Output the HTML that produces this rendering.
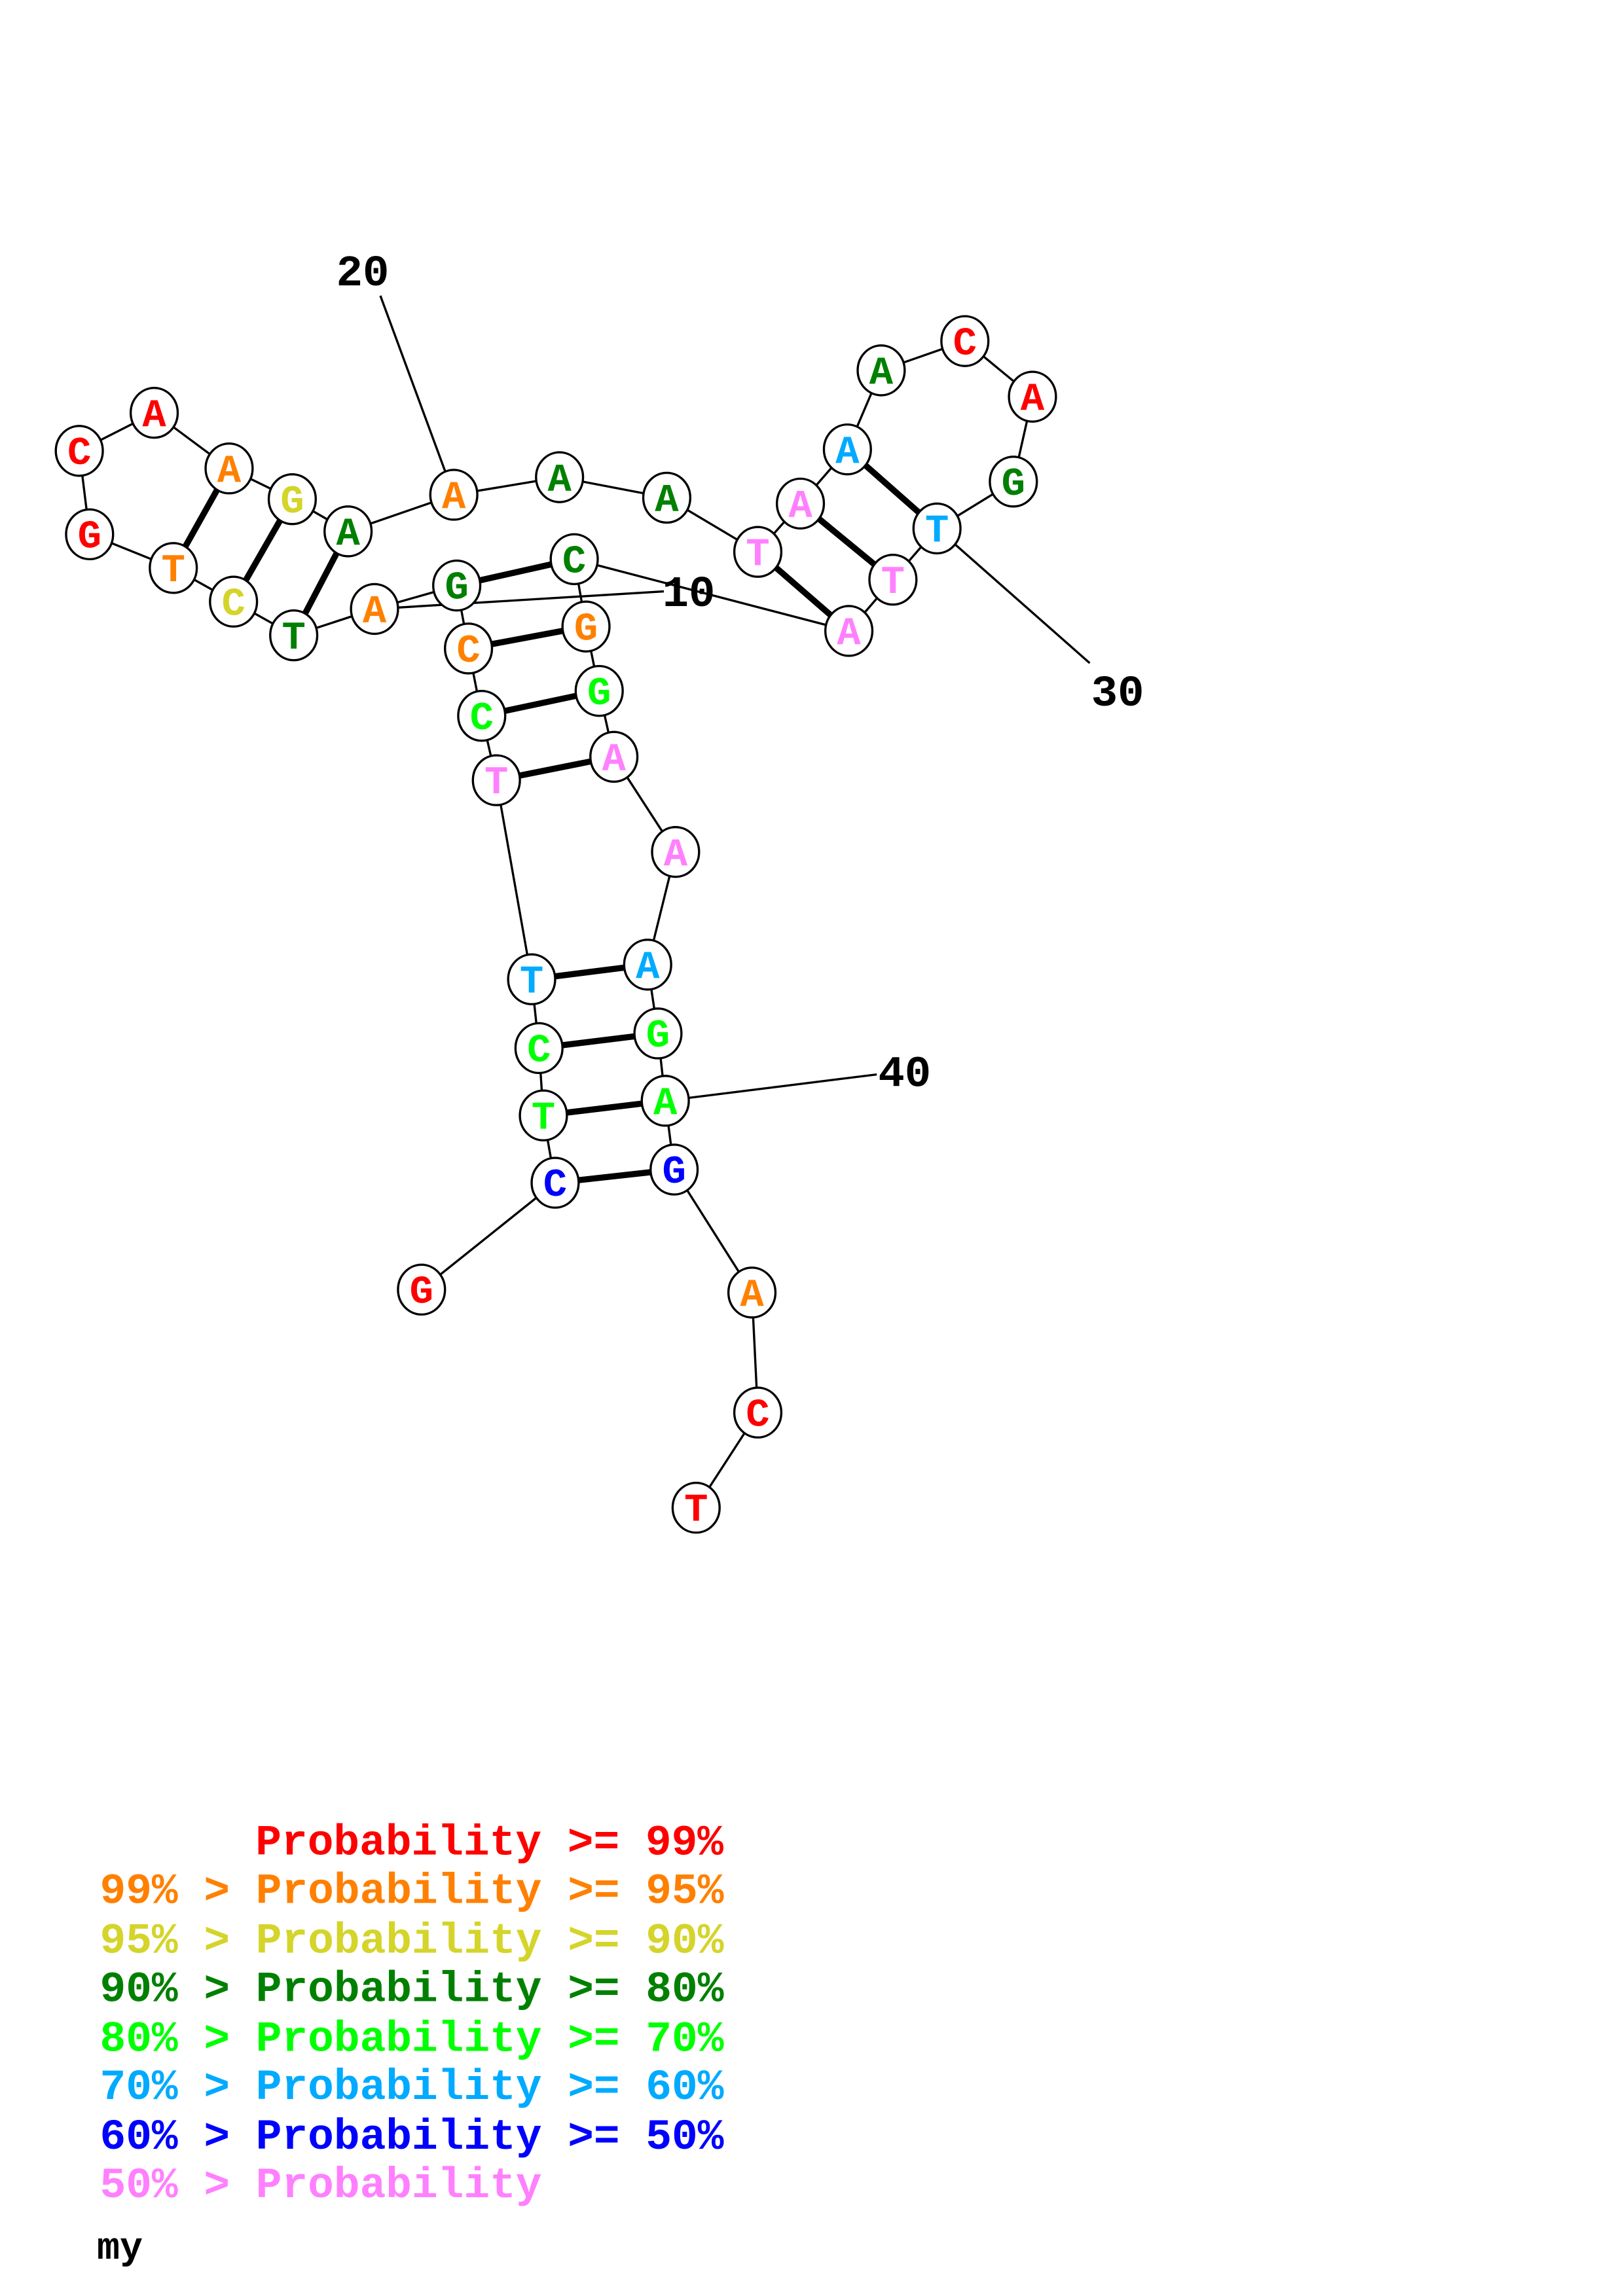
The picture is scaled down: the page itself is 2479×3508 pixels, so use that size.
<!DOCTYPE html>
<html><head><meta charset="utf-8"><style>html,body{margin:0;padding:0;background:#fff}svg{display:block}</style></head>
<body>
<svg width="2479" height="3508" viewBox="0 0 1101.8 1559.1" xmlns="http://www.w3.org/2000/svg">
<rect width="1101.8" height="1559.1" fill="#fff"/>
<g transform="scale(0.997,0.994)">
<g stroke="#000" stroke-width="1.5" fill="none">
<polyline points="287,881 378,808 370,762 367,716 362,669 338,533 328,489 319,443 311,400 255,416 200,434 159,411 118,388 61,365 54,308 105,282 156,320 199,341 237,363 309,338 381,326 454,340 516,377 545,344 577,307 600,253 657,233 703,271 690,329 638,361 608,396 578,431 391,382 399,428 408,472 418,517 460,582 441,659 448,706 453,752 459,799 512,883 516,965 474,1030"/>
<line x1="259" y1="202" x2="309" y2="338"/>
<line x1="255" y1="416" x2="452" y2="404"/>
<line x1="638" y1="361" x2="742" y2="453"/>
<line x1="453" y1="752" x2="597" y2="734"/>
</g>
<g stroke="#000" stroke-width="4.2">
<line x1="378" y1="808" x2="459" y2="799"/>
<line x1="370" y1="762" x2="453" y2="752"/>
<line x1="367" y1="716" x2="448" y2="706"/>
<line x1="362" y1="669" x2="441" y2="659"/>
<line x1="338" y1="533" x2="418" y2="517"/>
<line x1="328" y1="489" x2="408" y2="472"/>
<line x1="319" y1="443" x2="399" y2="428"/>
<line x1="311" y1="400" x2="391" y2="382"/>
<line x1="200" y1="434" x2="237" y2="363"/>
<line x1="159" y1="411" x2="199" y2="341"/>
<line x1="118" y1="388" x2="156" y2="320"/>
<line x1="516" y1="377" x2="578" y2="431"/>
<line x1="545" y1="344" x2="608" y2="396"/>
<line x1="577" y1="307" x2="638" y2="361"/>
</g>
<g font-family="'Liberation Mono', monospace" font-weight="bold" font-size="27" text-anchor="middle">
<g stroke="#000" stroke-width="1.5" fill="#fff">
<ellipse cx="287" cy="881" rx="16" ry="17"/><ellipse cx="378" cy="808" rx="16" ry="17"/><ellipse cx="370" cy="762" rx="16" ry="17"/><ellipse cx="367" cy="716" rx="16" ry="17"/><ellipse cx="362" cy="669" rx="16" ry="17"/><ellipse cx="338" cy="533" rx="16" ry="17"/><ellipse cx="328" cy="489" rx="16" ry="17"/><ellipse cx="319" cy="443" rx="16" ry="17"/><ellipse cx="311" cy="400" rx="16" ry="17"/><ellipse cx="255" cy="416" rx="16" ry="17"/><ellipse cx="200" cy="434" rx="16" ry="17"/><ellipse cx="159" cy="411" rx="16" ry="17"/><ellipse cx="118" cy="388" rx="16" ry="17"/><ellipse cx="61" cy="365" rx="16" ry="17"/><ellipse cx="54" cy="308" rx="16" ry="17"/><ellipse cx="105" cy="282" rx="16" ry="17"/><ellipse cx="156" cy="320" rx="16" ry="17"/><ellipse cx="199" cy="341" rx="16" ry="17"/><ellipse cx="237" cy="363" rx="16" ry="17"/><ellipse cx="309" cy="338" rx="16" ry="17"/><ellipse cx="381" cy="326" rx="16" ry="17"/><ellipse cx="454" cy="340" rx="16" ry="17"/><ellipse cx="516" cy="377" rx="16" ry="17"/><ellipse cx="545" cy="344" rx="16" ry="17"/><ellipse cx="577" cy="307" rx="16" ry="17"/><ellipse cx="600" cy="253" rx="16" ry="17"/><ellipse cx="657" cy="233" rx="16" ry="17"/><ellipse cx="703" cy="271" rx="16" ry="17"/><ellipse cx="690" cy="329" rx="16" ry="17"/><ellipse cx="638" cy="361" rx="16" ry="17"/><ellipse cx="608" cy="396" rx="16" ry="17"/><ellipse cx="578" cy="431" rx="16" ry="17"/><ellipse cx="391" cy="382" rx="16" ry="17"/><ellipse cx="399" cy="428" rx="16" ry="17"/><ellipse cx="408" cy="472" rx="16" ry="17"/><ellipse cx="418" cy="517" rx="16" ry="17"/><ellipse cx="460" cy="582" rx="16" ry="17"/><ellipse cx="441" cy="659" rx="16" ry="17"/><ellipse cx="448" cy="706" rx="16" ry="17"/><ellipse cx="453" cy="752" rx="16" ry="17"/><ellipse cx="459" cy="799" rx="16" ry="17"/><ellipse cx="512" cy="883" rx="16" ry="17"/><ellipse cx="516" cy="965" rx="16" ry="17"/><ellipse cx="474" cy="1030" rx="16" ry="17"/>
</g>
<text x="287" y="890" fill="#ff0000">G</text>
<text x="378" y="817" fill="#0000ff">C</text>
<text x="370" y="771" fill="#00ff00">T</text>
<text x="367" y="725" fill="#00ff00">C</text>
<text x="362" y="678" fill="#00aaff">T</text>
<text x="338" y="542" fill="#ff80ff">T</text>
<text x="328" y="498" fill="#00ff00">C</text>
<text x="319" y="452" fill="#ff8000">C</text>
<text x="311" y="409" fill="#008000">G</text>
<text x="255" y="425" fill="#ff8000">A</text>
<text x="200" y="443" fill="#008000">T</text>
<text x="159" y="420" fill="#d4d42a">C</text>
<text x="118" y="397" fill="#ff8000">T</text>
<text x="61" y="374" fill="#ff0000">G</text>
<text x="54" y="317" fill="#ff0000">C</text>
<text x="105" y="291" fill="#ff0000">A</text>
<text x="156" y="329" fill="#ff8000">A</text>
<text x="199" y="350" fill="#d4d42a">G</text>
<text x="237" y="372" fill="#008000">A</text>
<text x="309" y="347" fill="#ff8000">A</text>
<text x="381" y="335" fill="#008000">A</text>
<text x="454" y="349" fill="#008000">A</text>
<text x="516" y="386" fill="#ff80ff">T</text>
<text x="545" y="353" fill="#ff80ff">A</text>
<text x="577" y="316" fill="#00aaff">A</text>
<text x="600" y="262" fill="#008000">A</text>
<text x="657" y="242" fill="#ff0000">C</text>
<text x="703" y="280" fill="#ff0000">A</text>
<text x="690" y="338" fill="#008000">G</text>
<text x="638" y="370" fill="#00aaff">T</text>
<text x="608" y="405" fill="#ff80ff">T</text>
<text x="578" y="440" fill="#ff80ff">A</text>
<text x="391" y="391" fill="#008000">C</text>
<text x="399" y="437" fill="#ff8000">G</text>
<text x="408" y="481" fill="#00ff00">G</text>
<text x="418" y="526" fill="#ff80ff">A</text>
<text x="460" y="591" fill="#ff80ff">A</text>
<text x="441" y="668" fill="#00aaff">A</text>
<text x="448" y="715" fill="#00ff00">G</text>
<text x="453" y="761" fill="#00ff00">A</text>
<text x="459" y="808" fill="#0000ff">G</text>
<text x="512" y="892" fill="#ff8000">A</text>
<text x="516" y="974" fill="#ff0000">C</text>
<text x="474" y="1039" fill="#ff0000">T</text>
</g>
<g font-family="'Liberation Mono', monospace" font-weight="bold" font-size="30" fill="#000">
<text x="229" y="195">20</text>
<text x="451" y="414">10</text>
<text x="743" y="482">30</text>
<text x="598" y="742">40</text>
</g>
<g font-family="'Liberation Mono', monospace" font-weight="bold" font-size="29.5">
<text x="174" y="1267" fill="#ff0000">Probability &gt;= 99%</text>
<text x="68" y="1300" fill="#ff8000">99% &gt; Probability &gt;= 95%</text>
<text x="68" y="1334" fill="#d4d42a">95% &gt; Probability &gt;= 90%</text>
<text x="68" y="1367" fill="#008000">90% &gt; Probability &gt;= 80%</text>
<text x="68" y="1401" fill="#00ff00">80% &gt; Probability &gt;= 70%</text>
<text x="68" y="1434" fill="#00aaff">70% &gt; Probability &gt;= 60%</text>
<text x="68" y="1468" fill="#0000ff">60% &gt; Probability &gt;= 50%</text>
<text x="68" y="1501" fill="#ff80ff">50% &gt; Probability</text>
<text x="66" y="1543" fill="#000" font-size="26">my</text>
</g>
</g>
</svg>
</body></html>
